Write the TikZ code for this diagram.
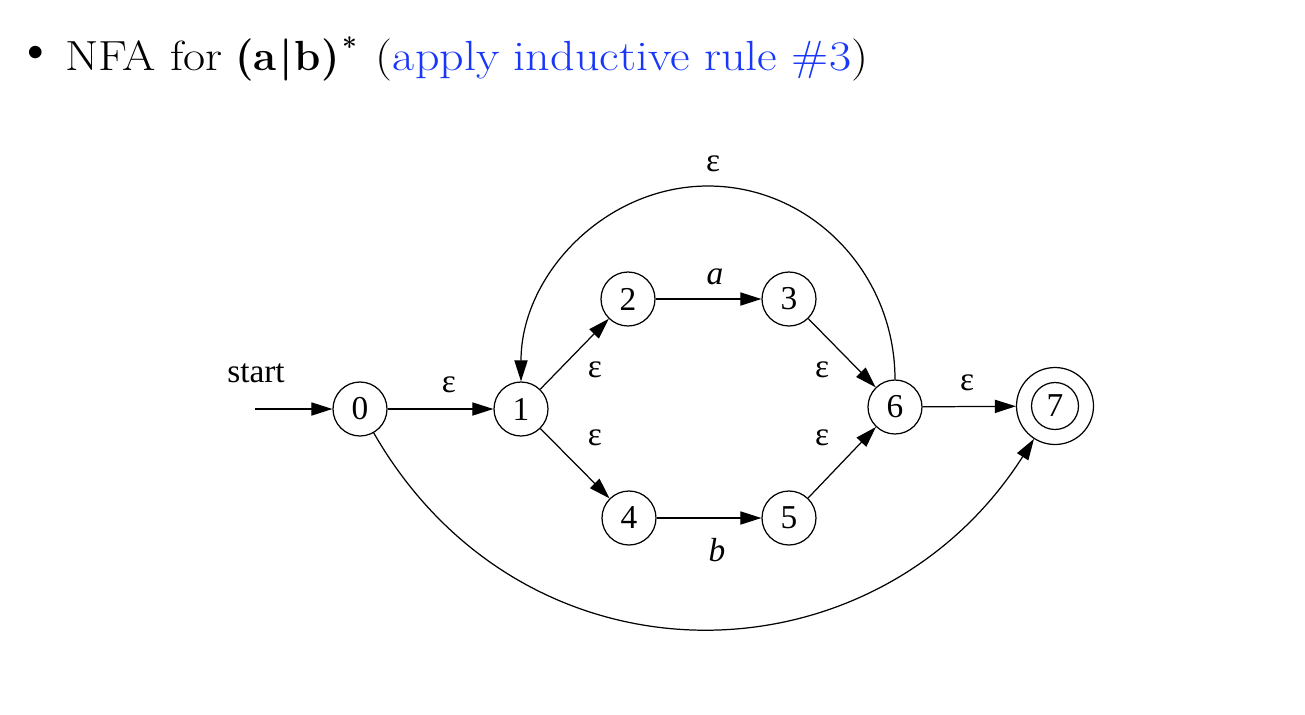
\documentclass[tikz,border=0pt]{standalone}
\usepackage{fontspec}
\newfontfamily\tms{Liberation Serif}
\usetikzlibrary{arrows.meta}
\definecolor{linkblue}{RGB}{25,55,250}
\begin{document}
\begin{tikzpicture}[x=0.02cm,y=-0.02cm,
  state/.style={circle,draw,line width=0.7pt,minimum size=1.08cm,inner sep=0pt,font=\tms\fontsize{19}{19}\selectfont},
  accout/.style={circle,draw,line width=0.7pt,minimum size=1.54cm,inner sep=0pt},
  accin/.style={circle,draw,line width=0.7pt,minimum size=0.94cm,inner sep=0pt,font=\tms\fontsize{19}{19}\selectfont},
  edge/.style={-{Triangle[length=12pt,width=7.5pt]},line width=0.7pt},
  lbl/.style={inner sep=0pt,font=\tms\fontsize{19}{19}\selectfont},
  title/.style={inner sep=0pt,font=\fontsize{24}{29}\selectfont}
]
\useasboundingbox (0,0) rectangle (1305,714);
% title
\node[title,font=\fontsize{32}{32}\selectfont] (bul) at (36,57) {\textbullet};
\node[title,anchor=base west] (ttl) at (65,70) {\scalebox{1.14}[1]{NFA for} \textbf{(a\hspace{0.05em}|\hspace{0.05em}b)}\hspace{0.06em}\raisebox{0.75ex}{\fontsize{15}{15}\selectfont\bfseries *}\hspace{0.15em} \scalebox{1.14}[1]{(\textcolor{linkblue}{apply inductive rule \#3})}};
% states
\node[state] (n0) at (360,409) {0};
\node[state] (n1) at (521,409) {1};
\node[state] (n2) at (628,299) {2};
\node[state] (n3) at (789,299) {3};
\node[state] (n4) at (629,518) {4};
\node[state] (n5) at (789,518) {5};
\node[state] (n6) at (895,407) {6};
\node[accout] (n7) at (1055,406) {};
\node[accin] (n7i) at (1055,406) {7};
% start
\node[lbl] (st) at (256,373) {start};
\coordinate (s0) at (255,409);
\coordinate (top) at (708,186);
\draw[edge] (s0) -- (n0);
% edges
\draw[edge] (n0) -- (n1);
\draw[edge] (n1) -- (n2);
\draw[edge] (n1) -- (n4);
\draw[edge] (n2) -- (n3);
\draw[edge] (n4) -- (n5);
\draw[edge] (n3) -- (n6);
\draw[edge] (n5) -- (n6);
\draw[edge] (n6) -- (n7);
\draw[edge] (n6.north) .. controls (895,273) and (811,186) .. (top)
                       .. controls (605,186) and (521,275) .. (n1.north);
\draw[edge] (n0) .. controls (525,696) and (875,688) .. (n7);
% labels
\node[lbl] (e01) at (449,385) {ε};
\node[lbl] (e12) at (595,370) {ε};
\node[lbl] (e14) at (595,438) {ε};
\node[lbl] (e36) at (822,370) {ε};
\node[lbl] (e56) at (822,438) {ε};
\node[lbl] (e67) at (967,383) {ε};
\node[lbl] (e61) at (713,164) {ε};
\node[lbl] (la) at (715,277) {\itshape a};
\node[lbl] (lb) at (717,550) {\itshape b};
\end{tikzpicture}
\end{document}
